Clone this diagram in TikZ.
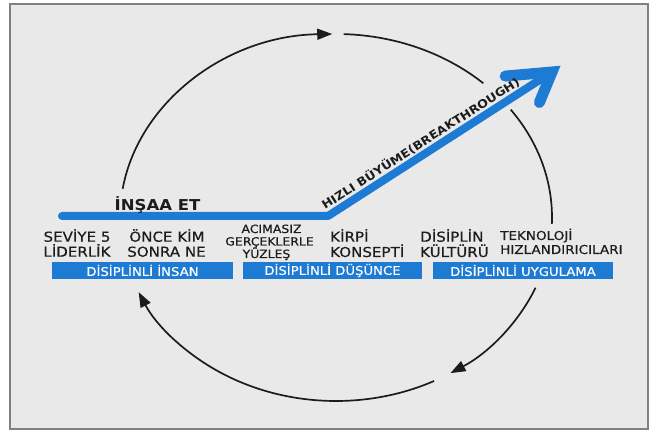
\documentclass[tikz,border=0pt]{standalone}
\usepackage{fontspec}
\setmainfont{DejaVu Sans}[FakeStretch=1.1]
\newfontfamily\lblfont{DejaVu Sans}[FakeStretch=1.1,FakeBold=0.35]
\usetikzlibrary{arrows.meta,calc}
\definecolor{bblue}{RGB}{30,123,211}
\definecolor{bgc}{RGB}{233,233,233}
\definecolor{framec}{RGB}{128,128,128}
\definecolor{ink}{RGB}{28,28,28}
\begin{document}
\begin{tikzpicture}[x=1pt,y=1pt,
  cyc/.style={line width=1.7pt, draw=ink},
  cyctip/.style={cyc, -{Triangle[length=15pt,width=11pt]}},
  lbl/.style={font=\lblfont\fontsize{13.7}{15}\selectfont, text=ink, inner sep=0pt, anchor=base},
  lblL/.style={lbl, anchor=base west},
  lbls/.style={lbl, font=\lblfont\fontsize{11.3}{13}\selectfont},
  lblt/.style={lblL, font=\lblfont\fontsize{12.3}{14}\selectfont},
  band/.style={fill=bblue, minimum height=17pt, inner sep=0pt, text=white, font=\lblfont\fontsize{12}{14}\selectfont},
  blueline/.style={line width=8pt, draw=bblue, line cap=round, line join=round},
  bluehead/.style={line width=11pt, draw=bblue, line cap=round, line join=miter},
]
\useasboundingbox (0,0) rectangle (653,434);
\draw[draw=framec, fill=bgc, line width=2.2pt] (10,5) rectangle (648,430);

% cycle arcs
\coordinate (c) at (336,216.5);
\draw[cyctip] (c) ++(171:216 and 183.5) arc[start angle=171, end angle=91, x radius=216, y radius=183.5];
\draw[cyc] (c) ++(88:216 and 183.5) arc[start angle=88, end angle=47, x radius=216, y radius=183.5];
\draw[cyc] (c) ++(36:216 and 183.5) arc[start angle=36, end angle=-2, x radius=216, y radius=183.5];
\draw[cyctip] (c) ++(-22.5:216 and 183.5) arc[start angle=-22.5, end angle=-58, x radius=216, y radius=183.5];
\draw[cyctip] (c) ++(-63:216 and 183.5) arc[start angle=-63, end angle=-156, x radius=216, y radius=183.5];

% blue growth line
\coordinate (s) at (62,218);
\coordinate (k) at (328,218);
\coordinate (t) at (552,362);
\coordinate (a1) at ($(t)+(185:47)$);
\coordinate (a2) at ($(t)+(247.5:33)$);
\draw[blueline] (s) -- (k) -- (t);
\draw[bluehead] (a1) -- (t) -- (a2);
\path (k) -- (t) node[pos=0.44, sloped, above=5pt, inner sep=0pt, text=ink, font=\bfseries\fontsize{11.5}{13}\selectfont] (hb) {HIZLI BÜYÜME(BREAKTHROUGH)};

\node[lbl, font=\bfseries\fontsize{15}{17}\selectfont] (ins) at (157.5,223) {İNŞAA ET};

% labels
\node[lbl] (l1a) at (77,192.3) {SEVİYE 5};
\node[lbl] (l1b) at (77,177.3) {LİDERLİK};
\node[lbl] (l2a) at (167,192.3) {ÖNCE KİM};
\node[lbl] (l2b) at (166.5,177.3) {SONRA NE};
\node[lbls] (l3a) at (271.5,201) {ACIMASIZ};
\node[lbls] (l3b) at (269.5,188.5) {GERÇEKLERLE};
\node[lbls] (l3c) at (266.5,176) {YÜZLEŞ};
\node[lblL] (l4a) at (330,192.3) {KİRPİ};
\node[lblL] (l4b) at (330,177) {KONSEPTİ};
\node[lblL] (l5a) at (420,192.3) {DİSİPLİN};
\node[lblL] (l5b) at (420,177) {KÜLTÜRÜ};
\node[lblt] (l6a) at (500,194) {TEKNOLOJİ};
\node[lblt] (l6b) at (500,180) {HIZLANDIRICILARI};

% bands
\node[band, minimum width=181pt] (b1) at (142.5,163.5) {DİSİPLİNLİ İNSAN};
\node[band, minimum width=179pt] (b2) at (332.5,163.5) {DİSİPLİNLİ DÜŞÜNCE};
\node[band, minimum width=180pt] (b3) at (523,163.5) {DİSİPLİNLİ UYGULAMA};
\end{tikzpicture}
\end{document}
